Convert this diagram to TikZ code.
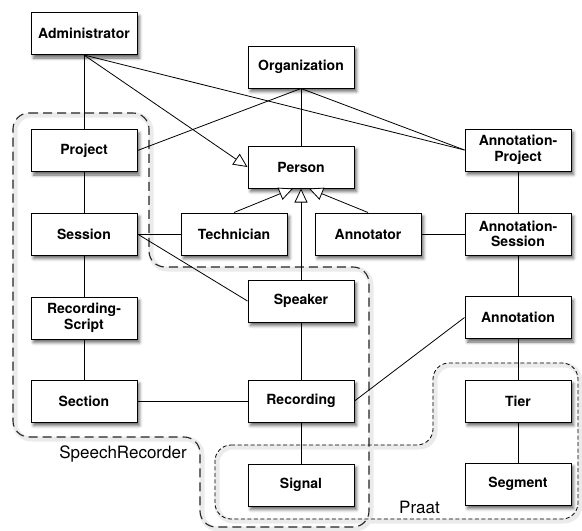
\documentclass[tikz,border=0pt]{standalone}
\usepackage{fontspec}
\setmainfont{TeX Gyre Heros}
\usetikzlibrary{arrows.meta,shadows.blur}

\tikzset{
	cls/.style={draw, fill=white, line width=1pt, minimum width=106pt, minimum height=42pt,
		align=center, font=\fontsize{14}{15.5}\selectfont\bfseries,
		blur shadow={shadow xshift=2.5pt, shadow yshift=-3.5pt, shadow blur radius=3pt, shadow opacity=60}},
	assoc/.style={line width=0.8pt},
	isa/.style={line width=0.8pt, -{Triangle[open, length=14pt, width=13pt, fill=white]}},
	grouplabel/.style={font=\fontsize{17}{20}\selectfont, inner sep=0pt},
	halo/.style={draw=black!8, line width=5pt, rounded corners=16pt, shift={(2,2)}},
	srgroup/.style={draw=black!85, line width=1.1pt, dash pattern=on 9pt off 5pt, rounded corners=16pt},
	praatgroup/.style={draw=black, line width=0.8pt, dash pattern=on 4pt off 2.5pt, rounded corners=16pt}
}

\begin{document}
\begin{tikzpicture}[x=1pt, y=-1pt]
	\useasboundingbox (0,0) rectangle (582,531);
	% groups
	\draw[halo] (13,113) -- (149,113) -- (149,267) -- (369,267) -- (369,527)
		-- (200,527) -- (200,437) -- (13,437) -- cycle;
	\draw[halo] (215,445) -- (433,445) -- (433,363) -- (578,363) -- (578,519)
		-- (215,519) -- cycle;
	\draw[srgroup] (13,113) -- (149,113) -- (149,267) -- (369,267) -- (369,527)
		-- (200,527) -- (200,437) -- (13,437) -- cycle;
	\draw[praatgroup] (215,445) -- (433,445) -- (433,363) -- (578,363) -- (578,519)
		-- (215,519) -- cycle;
	\node[grouplabel] (srlabel) at (123,454) {SpeechRecorder};
	\node[grouplabel] (praatlabel) at (419.5,507) {Praat};
	% classes
	\node[cls] (admin) at (84,33.5) {Administrator};
	\node[cls] (org) at (301,67) {Organization};
	\node[cls] (project) at (84,150.5) {Project};
	\node[cls] (person) at (301,167) {Person};
	\node[cls] (aproject) at (518,150) {Annotation-\\Project};
	\node[cls] (session) at (84,234) {Session};
	\node[cls] (tech) at (234,234) {Technician};
	\node[cls] (annotator) at (368,234) {Annotator};
	\node[cls] (asession) at (518,234) {Annotation-\\Session};
	\node[cls] (speaker) at (301,301) {Speaker};
	\node[cls] (script) at (84,318) {Recording-\\Script};
	\node[cls] (annotation) at (518,317.5) {Annotation};
	\node[cls] (section) at (84,401) {Section};
	\node[cls] (recording) at (301,401) {Recording};
	\node[cls] (tier) at (518,401) {Tier};
	\node[cls] (signal) at (301,485) {Signal};
	\node[cls] (segment) at (518,484) {Segment};
	% associations
	\draw[assoc] (admin) -- (project) -- (session) -- (script) -- (section);
	\draw[assoc] (admin.south) -- (aproject.west);
	\draw[assoc] (org.south) -- (project.east);
	\draw[assoc] (org.south) -- (person.north);
	\draw[assoc] (org.south) -- (aproject.west);
	\draw[assoc] (session.east) -- (tech.west);
	\draw[assoc] (session.east) -- (speaker.west);
	\draw[assoc] (annotator) -- (asession);
	\draw[assoc] (aproject) -- (asession) -- (annotation) -- (tier) -- (segment);
	\draw[assoc] (speaker) -- (recording) -- (signal);
	\draw[assoc] (section) -- (recording);
	\draw[assoc] (recording.east) -- (annotation.west);
	% generalisations
	\draw[isa] (admin.south) -- (person.west);
	\draw[isa] (tech.north) -- ([xshift=-8pt]person.south);
	\draw[isa] (annotator.north) -- ([xshift=8pt]person.south);
	\draw[isa] (speaker.north) -- (person.south);
\end{tikzpicture}
\end{document}
